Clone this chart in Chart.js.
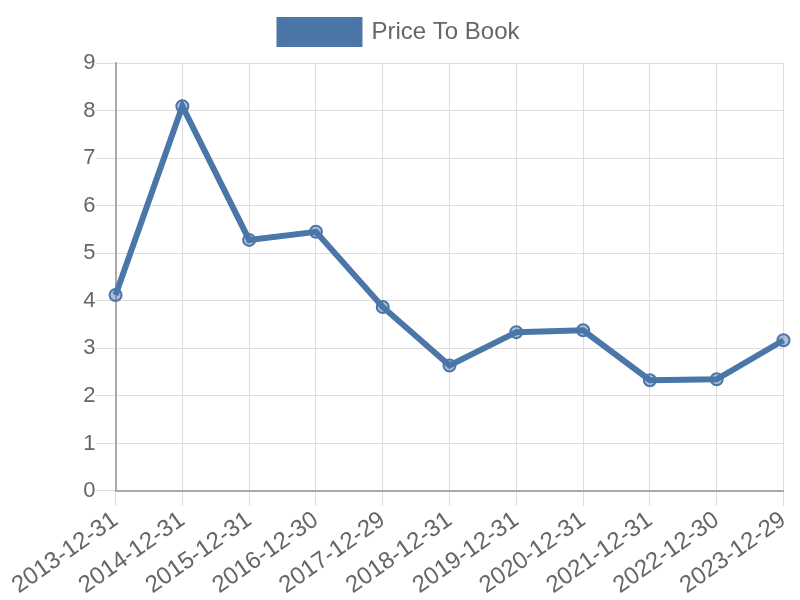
<!DOCTYPE html>
<html>
<head>
<meta charset="utf-8">
<script src="https://cdn.jsdelivr.net/npm/chart.js@4/dist/chart.umd.min.js"></script>
<style>
  html, body { margin: 0; padding: 0; background: #fff; }
  #wrap { width: 800px; height: 600px; }
</style>
</head>
<body>
<div id="wrap"><canvas id="chart_ptb"></canvas></div>
<script>
/* data */
let labels_dates = ['2013-12-31', '2014-12-31', '2015-12-31', '2016-12-30', '2017-12-29', '2018-12-31',
                    '2019-12-31', '2020-12-31', '2021-12-31', '2022-12-30', '2023-12-29'];
let values_ptb   = [4.12, 8.09, 5.28, 5.45, 3.87, 2.64, 3.34, 3.38, 2.33, 2.35, 3.17];
let ticks_y      = [0, 1, 2, 3, 4, 5, 6, 7, 8, 9];

Chart.defaults.font.family = '"Liberation Sans", Arial, sans-serif';
Chart.defaults.color = '#666';

/* extra room under the legend */
let plugin_legendGap = {
    id: 'legendGap',
    beforeInit: (chart)=>{
        let fit = chart.legend.fit;
        chart.legend.fit = function(){
            fit.bind(chart.legend)();
            this.height += 9;
        };
    }
};

let ctx_ptb   = document.querySelector('#chart_ptb').getContext('2d');
let chart_ptb = new Chart(ctx_ptb, {
    type: 'line',
    data: {
        labels: labels_dates,
        datasets: [{
            label: 'Price To Book',
            data: values_ptb,
            borderColor: 'rgb(74, 118, 168)',
            backgroundColor: 'rgb(74, 118, 168)',
            pointBackgroundColor: 'rgba(74, 118, 168, 0.45)',
            pointBorderColor: 'rgb(74, 118, 168)',
            borderWidth: 6,
            pointRadius: 6,
            pointBorderWidth: 2,
            tension: 0,
            fill: false
        }]
    },
    options: {
        responsive: true,
        maintainAspectRatio: false,
        animation: false,
        layout: { padding: { left: 15, right: 16, top: 10, bottom: 0 } },
        plugins: {
            legend: {
                labels: { font: { size: 24 }, boxWidth: 80, boxHeight: 24, padding: 10 }
            },
            tooltip: { enabled: false }
        },
        scales: {
            x: {
                afterFit: (scale)=>{ scale.paddingLeft += 15; }, // room for first rotated label
                grid: { color: '#ddd', tickLength: 15 },
                border: { color: '#aaa', width: 2 },
                ticks: { font: { size: 24 }, maxRotation: 35, minRotation: 35, autoSkip: false, padding: 0 }
            },
            y: {
                min: 0,
                max: 9,
                afterBuildTicks: (axis)=>{ axis.ticks = ticks_y.map(v => ({ value: v })); },
                grid: { color: '#ddd', tickLength: 20 },
                border: { color: '#aaa', width: 2 },
                ticks: { font: { size: 22 }, padding: 0 }
            }
        }
    },
    plugins: [plugin_legendGap]
});
</script>
</body>
</html>
